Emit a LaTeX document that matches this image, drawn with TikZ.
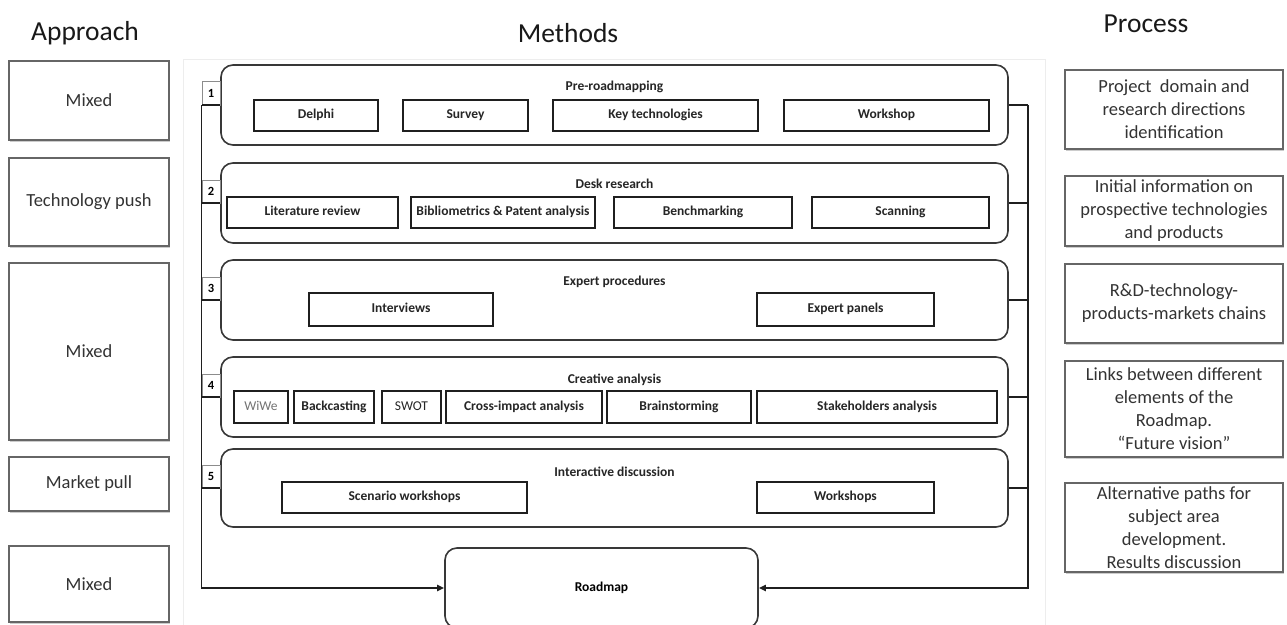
\documentclass[tikz,border=0pt]{standalone}
\usepackage{fontspec}
\setmainfont{Carlito}
\usetikzlibrary{arrows.meta,shadows}
\newcommand{\rbox}[7]{\node[#1, minimum width={#5-#3}, minimum height={#6-#4}] (#2) at ({(#3+#5)/2},{(#4+#6)/2}) {#7};}
\begin{document}
\begin{tikzpicture}[x=1pt,y=-1pt,
  side/.style={draw=black!60, line width=1.2pt, fill=white, inner sep=0pt, font=\fontsize{18.5}{23}\selectfont, text=black!80, align=center, drop shadow={shadow xshift=1.2pt, shadow yshift=-2pt, opacity=0.4}},
  grp/.style={draw=black!78, line width=1.6pt, rounded corners=12pt, inner sep=0pt},
  item/.style={draw=black!88, line width=1.8pt, inner sep=0pt, font=\fontsize{13.5}{15}\selectfont\bfseries, text=black!85, text height=9pt, text depth=3pt},
  ttl/.style={font=\fontsize{13.5}{15}\selectfont\bfseries, text=black!85, inner sep=0pt, text height=9pt, text depth=3pt},
  num/.style={draw=black!45, fill=white, line width=1pt, inner sep=0pt, font=\fontsize{12.5}{14}\selectfont\bfseries},
  head/.style={font=\fontsize{27.5}{30}\selectfont, text=black!90, anchor=base, inner sep=0pt},
  bus/.style={draw=black!88, line width=1.9pt},
  arr/.style={bus, -{Triangle[length=7pt,width=6pt]}}
]
\useasboundingbox (0,0) rectangle (1287,624);
\fill[white] (0,0) rectangle (1287,624);
\draw[black!7, line width=1pt] (183,59) rectangle (1045,630);

% headings
\node[head] (hA) at (85,40) {Approach};
\node[head] (hM) at (568,42) {Methods};
\node[head] (hP) at (1146,32) {Process};

% approach column
\rbox{side}{a1}{9}{61}{169}{140}{Mixed}
\rbox{side}{a2}{9}{158}{169}{246}{Technology push}
\rbox{side}{a3}{9}{263}{169}{440}{Mixed}
\rbox{side}{a4}{9}{457}{169}{511}{Market pull}
\rbox{side}{a5}{9}{546}{169}{622}{Mixed}

% process column
\rbox{side}{p1}{1065}{70}{1283}{149}{Project\ \ domain and\\research directions\\identification}
\rbox{side}{p2}{1065}{176}{1283}{246}{Initial information on\\prospective technologies\\and products}
\rbox{side}{p3}{1065}{264}{1283}{343}{R\&D-technology-\\products-markets chains}
\rbox{side}{p4}{1065}{361}{1283}{457}{Links between different\\elements of the\\Roadmap.\\``Future vision''}
\rbox{side}{p5}{1065}{483}{1283}{572}{Alternative paths for\\subject area\\development.\\Results discussion}

% groups
\rbox{grp}{g1}{221}{65}{1008}{145}{}
\rbox{grp}{g2}{221}{163}{1008}{243}{}
\rbox{grp}{g3}{221}{260}{1008}{340}{}
\rbox{grp}{g4}{221}{357}{1008}{437}{}
\rbox{grp}{g5}{221}{449}{1008}{527}{}
\rbox{grp}{road}{445}{548}{758}{628}{\fontsize{13.5}{15}\selectfont\bfseries Roadmap}

% group titles
\node[ttl] (t1) at (614.5,87) {Pre-roadmapping};
\node[ttl] (t2) at (614.5,185) {Desk research};
\node[ttl] (t3) at (614.5,282) {Expert procedures};
\node[ttl] (t4) at (614.5,380) {Creative analysis};
\node[ttl] (t5) at (614.5,473) {Interactive discussion};

% items group 1
\rbox{item}{d1}{254}{100}{378}{131}{Delphi}
\rbox{item}{d2}{403}{100}{528}{131}{Survey}
\rbox{item}{d3}{553}{100}{758}{131}{Key technologies}
\rbox{item}{d4}{784}{100}{989}{131}{Workshop}
% group 2
\rbox{item}{e1}{227}{197}{398}{228}{Literature review}
\rbox{item}{e2}{411}{197}{595}{228}{Bibliometrics \& Patent analysis}
\rbox{item}{e3}{614}{197}{792}{228}{Benchmarking}
\rbox{item}{e4}{812}{197}{989}{228}{Scanning}
% group 3
\rbox{item}{f1}{309}{293}{493}{326}{Interviews}
\rbox{item}{f2}{757}{293}{934}{326}{Expert panels}
% group 4
\rbox{item, font=\fontsize{13.5}{15}\selectfont, text=black!55}{h1}{234}{391}{288}{423}{WiWe}
\rbox{item}{h2}{294}{391}{374}{423}{Backcasting}
\rbox{item, font=\fontsize{13.5}{15}\selectfont}{h3}{382}{391}{441}{423}{SWOT}
\rbox{item}{h4}{446}{391}{602}{423}{Cross-impact analysis}
\rbox{item}{h5}{607}{391}{751}{423}{Brainstorming}
\rbox{item}{h6}{757}{391}{997}{423}{Stakeholders analysis}
% group 5
\rbox{item}{k1}{282}{482}{527}{513}{Scenario workshops}
\rbox{item}{k2}{757}{482}{934}{513}{Workshops}

% number boxes
\rbox{num}{n1}{202}{81}{220}{105}{1}
\rbox{num}{n2}{202}{180}{220}{203}{2}
\rbox{num}{n3}{202}{277}{220}{300}{3}
\rbox{num}{n4}{202}{374}{220}{397}{4}
\rbox{num}{n5}{202}{465}{220}{488}{5}

% buses
\coordinate (rb) at (1028,105);
\foreach \i in {1,...,5} {
  \draw[bus] (g\i.west) -- (g\i.west -| n1.west);
  \draw[bus] (g\i.east) -- (g\i.east -| rb);
}
\draw[arr] (g1.west -| n1.west) |- (road.west);
\draw[arr] (rb) |- (road.east);
\end{tikzpicture}
\end{document}
